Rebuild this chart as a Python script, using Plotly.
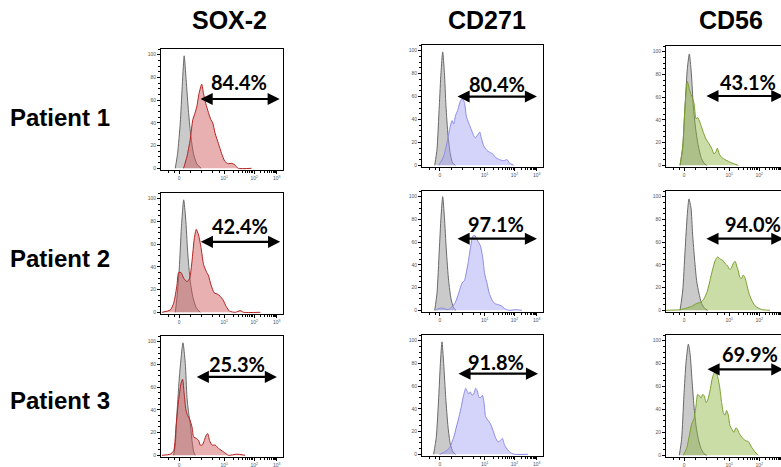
import math
import plotly.graph_objects as go

# ---------------- data ----------------
markers = ["SOX-2", "CD271", "CD56"]
patients = ["Patient 1", "Patient 2", "Patient 3"]
percent_labels = [["84.4%", "80.4%", "43.1%"],
                  ["42.4%", "97.1%", "94.0%"],
                  ["25.3%", "91.8%", "69.9%"]]
# gate (arrow) start / end in display channels and arrow height (% of max)
gate_start = [[312, 281, 319], [314, 281, 319], [281, 289, 328]]
gate_end = [[973, 950, 962], [977, 950, 962], [950, 959, 962]]
gate_level = [[61, 60, 61], [62, 63, 63], [69, 71, 75]]

x_tick_vals = [148, 518, 764, 948]
x_tick_text = ["0", "10<sup>1</sup>", "10<sup>2</sup>", "10<sup>3</sup>"]
y_tick_vals = [0, 20, 40, 60, 80, 100]
y_tick_text = ["0", "20", "40", "60", "80", "100"]

# SOX-2
sox2_p1_iso_x = [117, 136, 158, 174, 190, 206, 226, 245, 266, 293, 329]
sox2_p1_iso_y = [0, 13, 40, 72, 99, 78, 49, 28, 13, 4, 0]
sox2_p1_x = [185, 212, 239, 261, 274, 293, 312, 334, 348, 367, 389, 408, 424, 443, 470, 497, 524, 552, 579, 606, 633, 742]
sox2_p1_y = [0, 10, 25, 43, 47, 54, 66, 74, 66, 57, 49, 43, 40, 31, 22, 13, 6, 4, 4.4, 3, 0, 0]

sox2_p2_iso_x = [117, 131, 150, 167, 186, 202, 218, 240, 262, 289, 322]
sox2_p2_iso_y = [0, 13, 39, 74, 99, 83, 54, 27, 13, 4, 0]
sox2_p2_x = [8, 76, 104, 131, 145, 164, 186, 213, 235, 254, 273, 289, 308, 328, 349, 371, 390, 410, 437, 464, 486, 508, 535, 562, 609, 650, 677, 814]
sox2_p2_y = [0, 2, 8, 24, 35, 35, 30, 27, 30, 45, 65, 73, 68, 57, 42, 36, 32, 24, 17, 16, 14, 11, 5, 1, 0, 1.5, 0, 0]

sox2_p3_iso_x = [104, 117, 131, 153, 180, 199, 213, 227, 240, 254, 268, 281]
sox2_p3_iso_y = [0, 9, 37, 72, 99, 81, 51, 37, 28, 13, 3, 0]
sox2_p3_x = [8, 76, 104, 125, 145, 164, 177, 190, 204, 218, 234, 254, 268, 289, 308, 322, 338, 355, 372, 384, 398, 418, 445, 472, 513, 554, 622, 690]
sox2_p3_y = [0, 1, 4, 28, 49, 63, 67, 54, 40, 35, 32, 25, 16, 15, 13, 9, 9, 13, 18, 19, 13, 9, 9, 6, 3, 0, 1, 0]

# CD271
cd271_p1_iso_x = [105, 124, 143, 157, 171, 185, 198, 215, 234, 253, 276]
cd271_p1_iso_y = [0, 14, 52, 81, 99, 81, 52, 26, 10, 2, 0]
cd271_p1_x = [138, 179, 207, 234, 248, 262, 276, 298, 317, 331, 350, 366, 386, 408, 427, 441, 463, 477, 490, 510, 537, 565, 584, 606, 639, 675, 703, 722, 758]
cd271_p1_y = [0, 8, 20, 34, 39, 36, 43, 49, 56, 58, 55, 43, 37, 31, 26, 24, 27, 29, 24, 17, 13, 11, 10, 7, 5, 4, 5, 2, 0]

cd271_p2_iso_x = [105, 124, 143, 157, 171, 185, 201, 220, 240, 262, 281]
cd271_p2_iso_y = [0, 15, 53, 82, 100, 82, 53, 26, 10, 2, 0]
cd271_p2_x = [110, 138, 165, 187, 215, 248, 276, 303, 331, 350, 364, 380, 399, 419, 435, 455, 482, 501, 518, 537, 556, 579, 601, 628, 656, 683, 716, 771, 826]
cd271_p2_y = [0, 1.5, 2, 1.5, 0.5, 3, 7, 15, 24, 26, 32, 41, 54, 65, 66, 62, 57, 47, 32, 24, 15, 9, 6, 5, 4, 1.5, 0, 0.5, 0]

cd271_p3_iso_x = [96, 118, 138, 152, 165, 179, 196, 215, 234, 256, 278]
cd271_p3_iso_y = [0, 15, 50, 80, 99, 80, 50, 24, 9, 2, 0]
cd271_p3_x = [146, 187, 229, 262, 284, 306, 325, 344, 361, 372, 386, 399, 413, 427, 444, 457, 471, 485, 499, 512, 526, 545, 565, 587, 606, 628, 647, 664, 683, 711, 738, 766, 876]
cd271_p3_y = [0, 2, 6, 15, 24, 33, 42, 52, 58, 56, 53, 55, 52, 53, 58, 56, 50, 50, 52, 46, 33, 30, 27, 21, 15, 11, 12, 14, 8, 3.5, 1, 0, 0]

# CD56
cd56_p1_iso_x = [115, 137, 156, 175, 191, 207, 224, 243, 265, 287, 311, 333]
cd56_p1_iso_y = [0, 15, 52, 85, 98, 82, 52, 32, 17, 7, 2, 0]
cd56_p1_x = [115, 137, 156, 175, 191, 210, 229, 246, 259, 270, 287, 306, 328, 347, 374, 393, 410, 420, 437, 456, 483, 511, 551, 592]
cd56_p1_y = [0, 17, 52, 74, 67, 61, 55, 41, 42, 40, 35, 29, 23, 20, 15, 10, 12, 15, 10, 7, 5, 3.5, 1.5, 0]

cd56_p2_iso_x = [115, 137, 156, 175, 188, 205, 218, 235, 251, 270, 292, 319, 341]
cd56_p2_iso_y = [0, 17, 52, 85, 98, 90, 67, 44, 26, 15, 6, 1.5, 0]
cd56_p2_x = [0, 115, 169, 210, 251, 284, 311, 339, 360, 382, 404, 423, 445, 464, 486, 505, 521, 535, 554, 568, 579, 592, 606, 620, 633, 647, 661, 680, 702, 729, 756, 792, 852]
cd56_p2_y = [0, 0.5, 2, 3.5, 6, 7, 10, 17, 26, 36, 44, 47, 45, 44, 41, 39, 36, 37, 42, 43, 39, 35, 29, 28, 31, 29, 23, 15, 9, 4, 2, 0.5, 0]

cd56_p3_iso_x = [109, 128, 147, 164, 183, 197, 213, 229, 246, 265, 287, 311, 333]
cd56_p3_iso_y = [0, 14, 52, 81, 97, 89, 66, 43, 26, 14, 6, 1.5, 0]
cd56_p3_x = [142, 169, 191, 210, 229, 246, 259, 273, 287, 300, 314, 328, 341, 360, 377, 396, 415, 429, 442, 456, 470, 483, 497, 511, 524, 538, 557, 573, 584, 601, 620, 647, 674, 702, 729, 756]
cd56_p3_y = [0, 6, 17, 27, 32, 43, 53, 52, 50, 53, 52, 46, 48, 56, 66, 72, 71, 66, 58, 46, 37, 35, 39, 35, 26, 23, 20, 24, 23, 19, 16, 13, 12, 7, 3, 0]

panels = [
    [(sox2_p1_iso_x, sox2_p1_iso_y, sox2_p1_x, sox2_p1_y),
     (cd271_p1_iso_x, cd271_p1_iso_y, cd271_p1_x, cd271_p1_y),
     (cd56_p1_iso_x, cd56_p1_iso_y, cd56_p1_x, cd56_p1_y)],
    [(sox2_p2_iso_x, sox2_p2_iso_y, sox2_p2_x, sox2_p2_y),
     (cd271_p2_iso_x, cd271_p2_iso_y, cd271_p2_x, cd271_p2_y),
     (cd56_p2_iso_x, cd56_p2_iso_y, cd56_p2_x, cd56_p2_y)],
    [(sox2_p3_iso_x, sox2_p3_iso_y, sox2_p3_x, sox2_p3_y),
     (cd271_p3_iso_x, cd271_p3_iso_y, cd271_p3_x, cd271_p3_y),
     (cd56_p3_iso_x, cd56_p3_iso_y, cd56_p3_x, cd56_p3_y)],
]

# ---------------- layout / styling ----------------
W, H = 781, 467
col_px = [(161, 283), (422, 543), (666, 788)]
row_px = [[(49, 170), (45, 167), (46, 167)],
          [(193, 314), (191, 312), (191, 312)],
          [(336, 457), (335, 456), (335, 457)]]
label_pos = [[(641, 76), (620, 71), (674, 73)],
             [(644, 76), (614, 76), (712, 76)],
             [(622, 80), (614, 81), (688, 88)]]

line_colors = ["rgb(178,34,34)", "rgb(140,140,232)", "rgb(122,160,44)"]
fill_colors = ["rgba(205,80,80,0.45)", "rgba(160,160,245,0.45)", "rgba(140,180,60,0.45)"]
iso_line = "rgb(105,105,105)"
iso_fill = "rgba(150,150,150,0.5)"

# minor tick positions derived from decade tick positions
minor_x = []
for a, b in [(x_tick_vals[1], x_tick_vals[2]), (x_tick_vals[2], x_tick_vals[3])]:
    for k in range(2, 10):
        minor_x.append(a + (b - a) * math.log10(k))
for f in [0.25, 0.5, 0.75, 0.9]:
    minor_x.append(x_tick_vals[0] + (x_tick_vals[1] - x_tick_vals[0]) * f)
minor_x.append(x_tick_vals[0] - 40)
minor_x.append(x_tick_vals[0] - 90)

fig = go.Figure()
annotations = []
layout_axes = {}
tickfont = dict(family="Liberation Sans", size=5, color="#555")

for r in range(3):
    for c in range(3):
        k = r * 3 + c + 1
        xa = "x" if k == 1 else f"x{k}"
        ya = "y" if k == 1 else f"y{k}"
        iso_x, iso_y, sx, sy = panels[r][c]
        fig.add_trace(go.Scatter(x=iso_x, y=iso_y, xaxis=xa, yaxis=ya, mode="lines",
                                 line=dict(color=iso_line, width=1, shape="spline", smoothing=0.6),
                                 fill="tozeroy", fillcolor=iso_fill, hoverinfo="skip"))
        fig.add_trace(go.Scatter(x=sx, y=sy, xaxis=xa, yaxis=ya, mode="lines",
                                 line=dict(color=line_colors[c], width=1, shape="spline", smoothing=0.6),
                                 fill="tozeroy", fillcolor=fill_colors[c], hoverinfo="skip"))
        x0, x1 = col_px[c]
        vis_x1 = min(x1, W)
        xmax = 1000 * (vis_x1 - x0) / (x1 - x0)
        top, bot = row_px[r][c]
        layout_axes["xaxis" if k == 1 else f"xaxis{k}"] = dict(
            domain=[x0 / W, vis_x1 / W], range=[0, xmax], anchor=ya,
            showline=True, linecolor="black", linewidth=1, mirror=True,
            ticks="outside", ticklen=3, tickwidth=1, tickcolor="black",
            tickvals=x_tick_vals, ticktext=x_tick_text, tickfont=tickfont,
            minor=dict(tickmode="array", tickvals=minor_x, ticks="outside", ticklen=2,
                       tickcolor="black", tickwidth=0.8),
            showgrid=False, zeroline=False, fixedrange=True)
        layout_axes["yaxis" if k == 1 else f"yaxis{k}"] = dict(
            domain=[1 - bot / H, 1 - top / H], range=[-1.5, 105], anchor=xa,
            showline=True, linecolor="black", linewidth=1, mirror=(c < 2),
            ticks="outside", ticklen=3, tickwidth=1, tickcolor="black",
            tickvals=y_tick_vals, ticktext=y_tick_text, tickfont=tickfont,
            minor=dict(dtick=5, ticks="outside", ticklen=2, tickcolor="black", tickwidth=0.8),
            showgrid=False, zeroline=False, fixedrange=True)
        # gate arrow
        annotations.append(dict(x=gate_end[r][c], y=gate_level[r][c],
                                ax=gate_start[r][c], ay=gate_level[r][c],
                                xref=xa, yref=ya, axref=xa, ayref=ya, text="",
                                showarrow=True, arrowhead=2, arrowside="end+start",
                                arrowsize=1.1, arrowwidth=2.2, arrowcolor="black",
                                standoff=0, startstandoff=0))
        lx, ly = label_pos[r][c]
        annotations.append(dict(x=lx, y=ly, xref=xa, yref=ya, text=f"<b>{percent_labels[r][c]}</b>",
                                showarrow=False, font=dict(family="Lato", size=20, color="black"),
                                xanchor="center", yanchor="middle"))

title_centers = [229, 487, 731]
for c, name in enumerate(markers):
    annotations.append(dict(x=title_centers[c] / W, y=1 - 20 / H, xref="paper", yref="paper",
                            text=f"<b>{name}</b>", showarrow=False,
                            font=dict(family="Liberation Sans", size=25, color="black"),
                            xanchor="center", yanchor="middle"))
row_centers = [117, 258, 400]
for r, name in enumerate(patients):
    annotations.append(dict(x=8 / W, y=1 - row_centers[r] / H, xref="paper", yref="paper",
                            text=f"<b>{name}</b>", showarrow=False,
                            font=dict(family="Liberation Sans", size=24, color="black"),
                            xanchor="left", yanchor="middle"))

fig.update_layout(width=W, height=H, margin=dict(l=0, r=0, t=0, b=0),
                  paper_bgcolor="white", plot_bgcolor="white", showlegend=False,
                  annotations=annotations, **layout_axes)

fig.write_html("out.html", config={"displayModeBar": False},
               post_script="document.body.style.margin='0';document.body.style.overflow='hidden';")
